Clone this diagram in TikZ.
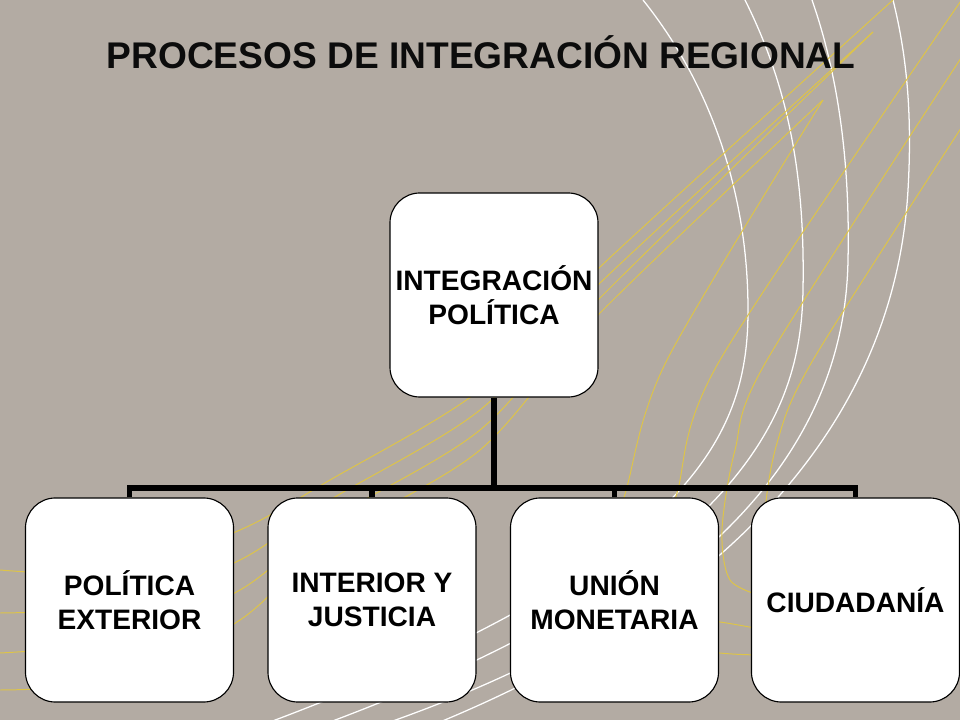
\documentclass[tikz,border=0pt]{standalone}
\usepackage{fontspec}
\setmainfont{Liberation Sans}
\usepackage{xcolor}
\usepackage{tikz}
\definecolor{fondo}{RGB}{179,171,163}
\definecolor{oro}{RGB}{222,196,72}
\definecolor{tinta}{RGB}{12,12,12}
\tikzset{
	caja/.style={draw=black, line width=0.8pt, fill=white, rounded corners=0.75cm,
		minimum width=5.2cm, minimum height=5.1cm, align=center,
		font=\fontsize{20}{24}\selectfont\bfseries},
	rama/.style={color=black, line width=4.2pt},
	arco/.style={color=white, line width=0.9pt},
	hilo/.style={color=oro, line width=0.7pt}
}
\begin{document}
\begin{tikzpicture}[x=0.025cm,y=-0.025cm]
\fill[fondo] (0,0) rectangle (960,720);
\useasboundingbox (0,0) rectangle (960,720);
% white arcs
\draw[arco] (643,0) .. controls (715,90) and (748,200) .. (748,310) .. controls (748,430) and (700,560) .. (270,722);
\draw[arco] (745,0) .. controls (790,90) and (805,180) .. (803,290) .. controls (801,400) and (760,560) .. (330,722);
\draw[arco] (812,0) .. controls (840,80) and (850,170) .. (848,260) .. controls (846,380) and (790,580) .. (390,722);
\draw[arco] (893,0) .. controls (908,60) and (912,120) .. (908,190) .. controls (900,330) and (830,560) .. (440,722);
% yellow lines
\draw[hilo] plot[smooth] coordinates {(893,0) (600,267) (480,390) (330,480) (240,530) (120,572) (0,570)};
\draw[hilo] plot[smooth] coordinates {(873,32) (600,283) (480,410) (330,500) (240,560) (120,605) (0,613)};
\draw[hilo] plot[smooth] coordinates {(873,32) (600,298) (480,430) (330,520) (240,590) (120,640) (0,653)};
\draw[hilo] plot[smooth] coordinates {(823,100) (600,313) (480,450) (330,540) (240,620) (120,680) (0,690)};
\draw[hilo] plot[smooth] coordinates {(823,100) (667,360) (627,487) (612,560) (640,612) (720,622) (765,630)};
\draw[hilo] plot[smooth] coordinates {(965,-5) (720,360) (677,493) (655,580) (685,645) (765,655)};
\draw[hilo] plot[smooth] coordinates {(965,52) (767,360) (735,450) (722,530) (730,580) (765,597)};
\draw[hilo] plot[smooth] coordinates {(965,122) (813,360) (777,443) (765,520) (780,560)};
% title
\node[text=tinta, font=\fontsize{26.4}{30}\selectfont\bfseries] (titulo) at (481,52) {PROCESOS DE INTEGRACIÓN REGIONAL};
% chart
\node[caja] (ip) at (494,295) {INTEGRACIÓN\\ POLÍTICA};
\node[caja] (pe) at (129.5,600) {POLÍTICA\\ EXTERIOR};
\node[caja] (ij) at (372,600) {INTERIOR Y\\ JUSTICIA};
\node[caja] (um) at (614.5,600) {UNIÓN\\ MONETARIA};
\node[caja] (ci) at (855.5,600) {CIUDADANÍA};
\coordinate (bus) at (494,488);
\draw[rama] (ip.south) -- (bus);
\draw[rama] (pe.north) -- (pe.north |- bus) -- (ci.north |- bus) -- (ci.north);
\foreach \n in {ij,um}{
	\draw[rama] (\n.north) -- (\n.north |- bus);
}
\end{tikzpicture}
\end{document}
